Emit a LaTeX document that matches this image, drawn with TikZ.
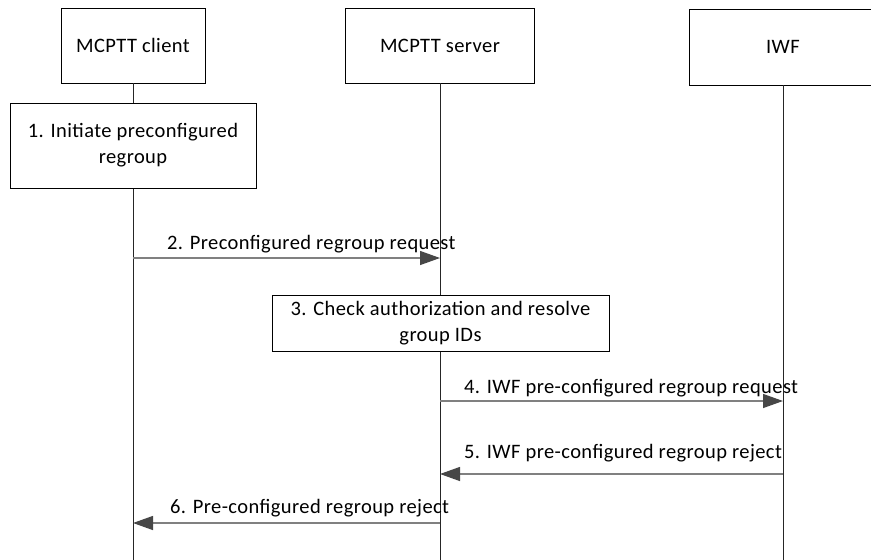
\documentclass[tikz,border=0pt]{standalone}
\usepackage{fontspec}
\setmainfont[LetterSpace=2]{Carlito}
\usetikzlibrary{arrows.meta}
\begin{document}
\begin{tikzpicture}[x=1pt,y=-1pt,
  txt/.style={font=\fontsize{20.5}{26}\selectfont},
  entity/.style={txt, draw=black, line width=0.8pt, fill=white, inner sep=0pt, align=center},
  lifeline/.style={draw=black!85, line width=0.9pt},
  msg/.style={draw=black!50, line width=1.3pt, -{Triangle[length=20pt,width=14pt,color=black!72]}},
  lbl/.style={txt, anchor=base west, inner sep=0pt}]
\useasboundingbox (0,0) rectangle (871,560);
\clip (0,0) rectangle (871,560);
% lifelines endpoints
\coordinate (cEnd) at (133,560);
\coordinate (sEnd) at (440,560);
\coordinate (iEnd) at (783,560);
\node[entity, minimum width=144, minimum height=75] (client) at (133,45.5) {MCPTT client};
\node[entity, minimum width=189, minimum height=75] (server) at (440,45.5) {MCPTT server};
\node[entity, minimum width=188, minimum height=76] (iwf) at (783,47) {IWF};
\draw[lifeline] (client.south) -- (cEnd);
\draw[lifeline] (server.south) -- (sEnd);
\draw[lifeline] (iwf.south) -- (iEnd);
\node[entity, minimum width=246, minimum height=85] (s1) at (133,145.5) {1. Initiate preconfigured\\regroup};
\node[entity, minimum width=337, minimum height=56] (s3) at (440.5,323) {3. Check authorization and resolve\\group IDs};
% messages
\draw[msg] (client.south |- 0,258) -- (server.south |- 0,258);
\node[lbl] (l2) at (167,249) {2. Preconfigured regroup request};
\draw[msg] (server.south |- 0,401) -- (iwf.south |- 0,401);
\node[lbl] (l4) at (464,393) {4. IWF pre-configured regroup request};
\draw[msg] (iwf.south |- 0,474) -- (server.south |- 0,474);
\node[lbl] (l5) at (464,458) {5. IWF pre-configured regroup reject};
\draw[msg] (server.south |- 0,523) -- (client.south |- 0,523);
\node[lbl] (l6) at (170,513) {6. Pre-configured regroup reject};
\end{tikzpicture}
\end{document}
